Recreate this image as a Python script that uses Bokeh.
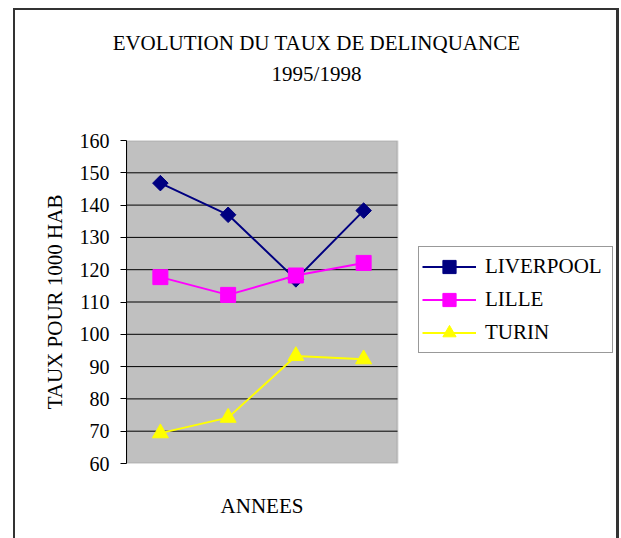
from bokeh.plotting import figure
from bokeh.models import Range1d, FixedTicker, Legend, LegendItem, Label, BoxAnnotation
from bokeh.embed import file_html
from bokeh.resources import INLINE

# ---- data ----
years = ["1995", "1996", "1997", "1998"]
liverpool = [146.8, 137.0, 117.0, 138.3]
lille = [117.7, 112.2, 118.2, 122.1]
turin = [69.4, 74.2, 93.3, 92.3]
y_ticks = [60, 70, 80, 90, 100, 110, 120, 130, 140, 150, 160]
grid_ticks = [70, 80, 90, 100, 110, 120, 130, 140, 150]
title_line1 = "EVOLUTION DU TAUX DE DELINQUANCE"
title_line2 = "1995/1998"
y_label = "TAUX POUR 1000 HAB"
x_label = "ANNEES"
series_names = ["LIVERPOOL", "LILLE", "TURIN"]

FONT = "Liberation Serif"
W = 619
H = 538
LEFT = 126          # frame left (px)
PLOT_W = 271        # width of grey plotting area (px)
FRAME_W = W - 2 - LEFT
n = len(years)
xpos = [i + 0.5 for i in range(n)]          # category centres
x_end = n * FRAME_W / PLOT_W                # extra room on the right for the legend

p = figure(
    x_range=Range1d(0, x_end),
    y_range=Range1d(y_ticks[0], y_ticks[-1]),
    width=W,
    height=H,
    output_backend="svg",
    toolbar_location=None,
    x_axis_location=None,
    min_border_left=LEFT,
    min_border_right=2,
    min_border_top=140,
    min_border_bottom=H - 463,
    background_fill_alpha=0,
    border_fill_alpha=0,
)
p.styles = {
    "background": "#ffffff",
    "box-shadow": "inset 13px 0 0 0 #ffffff, inset 0 8px 0 0 #ffffff, "
                  "inset 15px 0 0 0 #333333, inset 0 10px 0 0 #333333, "
                  "inset -3px 0 0 0 #333333",
}
p.outline_line_color = None
p.xgrid.visible = False
p.ygrid.visible = False

# grey plotting area with shadowed border
p.add_layout(BoxAnnotation(left=0, right=n, bottom=y_ticks[0], top=y_ticks[-1],
                           fill_color="#C0C0C0", fill_alpha=1,
                           line_color="#808080", line_width=2, level="underlay"))
# horizontal grid lines limited to the plotting area (drawn before the series)
p.segment(x0=[0] * len(grid_ticks), x1=[n] * len(grid_ticks),
          y0=grid_ticks, y1=grid_ticks, line_color="black", line_width=1)

p.yaxis.ticker = FixedTicker(ticks=y_ticks)
p.yaxis.axis_line_color = "black"
p.yaxis.axis_line_width = 1
p.yaxis.major_tick_in = 0
p.yaxis.major_tick_out = 6
p.yaxis.major_tick_line_color = "black"
p.yaxis.minor_tick_line_color = None
p.yaxis.major_label_text_font = FONT
p.yaxis.major_label_text_font_size = "20px"
p.yaxis.major_label_text_color = "black"
p.yaxis.major_label_standoff = 11
p.yaxis.axis_label = y_label
p.yaxis.axis_label_text_font = FONT
p.yaxis.axis_label_text_font_size = "21px"
p.yaxis.axis_label_text_font_style = "normal"
p.yaxis.axis_label_text_color = "black"
p.yaxis.axis_label_standoff = 10

# two-line title, centred over the whole chart
p.add_layout(Label(x=190, y=82, x_units="screen", y_units="screen",
                   text=title_line1 + "\n" + title_line2,
                   text_font=FONT, text_font_size="21px",
                   text_color="black", text_align="center",
                   text_baseline="middle", text_line_height=1.333), "above")
# x axis title
p.add_layout(Label(x=PLOT_W / 2, y=-18, x_units="screen", y_units="screen",
                   text=x_label, text_font=FONT, text_font_size="21px",
                   text_color="black", text_align="center",
                   text_baseline="middle"), "below")

l1 = p.line(xpos, liverpool, line_color="#000080", line_width=2)
m1 = p.scatter(xpos, liverpool, marker="square", angle=0.785398, size=11,
               fill_color="#000080", line_color="#000080")
l2 = p.line(xpos, lille, line_color="#FF00FF", line_width=2)
m2 = p.scatter(xpos, lille, marker="square", size=15,
               fill_color="#FF00FF", line_color="#FF00FF")
l3 = p.line(xpos, turin, line_color="#FFFF00", line_width=2)
m3 = p.scatter(xpos, turin, marker="triangle", size=16,
               fill_color="#FFFF00", line_color="#FFFF00")

legend = Legend(
    items=[
        LegendItem(label=series_names[0], renderers=[l1, m1]),
        LegendItem(label=series_names[1], renderers=[l2, m2]),
        LegendItem(label=series_names[2], renderers=[l3, m3]),
    ],
    location=(418 - LEFT, 110),
    orientation="vertical",
    padding=3,
    spacing=0,
    margin=0,
    glyph_width=54,
    glyph_height=33,
    label_height=33,
    label_width=124,
    label_standoff=9,
    label_text_font=FONT,
    label_text_font_size="21px",
    label_text_color="black",
    border_line_color="#333333",
    border_line_width=1,
    background_fill_color="white",
    background_fill_alpha=1,
)
p.add_layout(legend, "center")

open("out.html", "w").write(file_html(p, INLINE))
